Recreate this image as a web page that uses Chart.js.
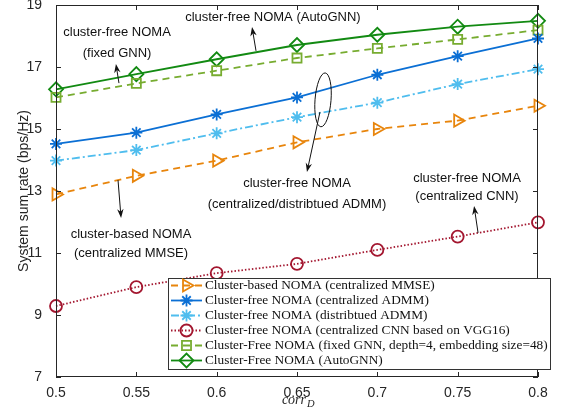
<!DOCTYPE html>
<html>
<head>
<meta charset="utf-8">
<script src="https://cdn.jsdelivr.net/npm/chart.js@4.4.1/dist/chart.umd.min.js"></script>
<style>
  html, body { margin: 0; padding: 0; background: #fff; }
  canvas { display: block; }
</style>
</head>
<body>
<canvas id="c" width="584" height="411"></canvas>
<script>
// values
const corr = [0.5, 0.55, 0.6, 0.65, 0.7, 0.75, 0.8];
const mmse    = [12.89, 13.49, 13.98, 14.57, 15.00, 15.27, 15.75];
const admmC   = [14.52, 14.88, 15.47, 16.02, 16.75, 17.35, 17.92];
const admmD   = [13.98, 14.32, 14.86, 15.38, 15.85, 16.45, 16.93];
const cnn     = [9.29, 9.90, 10.35, 10.65, 11.10, 11.53, 11.99];
const gnnFix  = [16.02, 16.47, 16.88, 17.29, 17.60, 17.89, 18.19];
const autoGnn = [16.28, 16.77, 17.25, 17.71, 18.04, 18.30, 18.49];
const yTicks = [7, 9, 11, 13, 15, 17, 19];

const names = [
  'Cluster-based NOMA (centralized MMSE)',
  'Cluster-free NOMA (centralized ADMM)',
  'Cluster-free NOMA (distribtued ADMM)',
  'Cluster-free NOMA (centralized CNN based on VGG16)',
  'Cluster-Free NOMA (fixed GNN, depth=4, embedding size=48)',
  'Cluster-Free NOMA (AutoGNN)'
];

const pts = arr => arr.map((v, i) => ({ x: corr[i], y: v }));

function ds(label, data, color, dash, style, r, rot) {
  return {
    label, data: pts(data),
    borderColor: color, backgroundColor: 'rgba(0,0,0,0)',
    borderWidth: 1.8, borderDash: dash,
    pointStyle: style, pointRadius: r, pointRotation: rot || 0,
    pointBorderColor: color, pointBackgroundColor: 'rgba(0,0,0,0)',
    pointBorderWidth: 1.8, tension: 0, clip: false
  };
}

const datasets = [
  ds(names[0], mmse, '#e8850c', [7, 5], 'triangle', 7, 90),
  ds(names[1], admmC, '#0b6fd4', [], 'star', 6),
  ds(names[2], admmD, '#4fbdee', [8, 3, 2, 3], 'star', 6),
  ds(names[3], cnn, '#a3162f', [1.5, 2], 'circle', 6),
  ds(names[4], gnnFix, '#77ac30', [7, 5], 'rect', 6.4),
  ds(names[5], autoGnn, '#128a12', [], 'rectRot', 7)
];

// annotations in data coordinates
const notes = [
  { x: 0.635, y: [18.61], t: ['cluster-free NOMA (AutoGNN)'] },
  { x: 0.538, y: [18.10, 17.45], t: ['cluster-free NOMA', '(fixed GNN)'] },
  { x: 0.650, y: [13.26, 12.58], t: ['cluster-free NOMA', '(centralized/distribtued ADMM)'] },
  { x: 0.7558, y: [13.42, 12.81], t: ['cluster-free NOMA', '(centralized CNN)'] },
  { x: 0.5467, y: [11.61, 11.00], t: ['cluster-based NOMA', '(centralized MMSE)'] }
];
const arrows = [
  [0.6245, 17.52, 0.622, 18.29],
  [0.5392, 16.48, 0.5373, 17.10],
  [0.6643, 15.55, 0.6562, 13.61],
  [0.7627, 11.65, 0.7602, 12.52],
  [0.5386, 13.35, 0.5405, 12.13]
];

const AX = '#262626';

function arrow(ctx, x1, y1, x2, y2) {
  const a = Math.atan2(y2 - y1, x2 - x1), L = 9, W = 3.2;
  ctx.beginPath();
  ctx.moveTo(x1, y1);
  ctx.lineTo(x2 - Math.cos(a) * L * 0.6, y2 - Math.sin(a) * L * 0.6);
  ctx.stroke();
  ctx.beginPath();
  ctx.moveTo(x2, y2);
  ctx.lineTo(x2 - Math.cos(a) * L - Math.sin(a) * W, y2 - Math.sin(a) * L + Math.cos(a) * W);
  ctx.lineTo(x2 - Math.cos(a) * L * 0.7, y2 - Math.sin(a) * L * 0.7);
  ctx.lineTo(x2 - Math.cos(a) * L + Math.sin(a) * W, y2 - Math.sin(a) * L - Math.cos(a) * W);
  ctx.closePath();
  ctx.fill();
}

const decor = {
  id: 'decor',
  afterDatasetsDraw(chart) {
    const { ctx, chartArea: a, scales: { x, y } } = chart;
    ctx.save();
    // frame and inward ticks
    ctx.strokeStyle = AX; ctx.lineWidth = 1;
    ctx.strokeRect(a.left + 0.5, a.top + 0.5, a.right - a.left - 1, a.bottom - a.top - 1);
    ctx.beginPath();
    corr.forEach(v => {
      const px = Math.round(x.getPixelForValue(v)) + 0.5;
      ctx.moveTo(px, a.bottom); ctx.lineTo(px, a.bottom - 5);
      ctx.moveTo(px, a.top); ctx.lineTo(px, a.top + 5);
    });
    yTicks.forEach(v => {
      const py = Math.round(y.getPixelForValue(v)) + 0.5;
      ctx.moveTo(a.left, py); ctx.lineTo(a.left + 5, py);
      ctx.moveTo(a.right, py); ctx.lineTo(a.right - 5, py);
    });
    ctx.stroke();

    // annotations
    ctx.fillStyle = '#111'; ctx.strokeStyle = '#111'; ctx.lineWidth = 1;
    ctx.font = '13px "Liberation Sans", Arial, sans-serif';
    ctx.textAlign = 'center'; ctx.textBaseline = 'middle';
    notes.forEach(n => n.t.forEach((s, i) => ctx.fillText(s, x.getPixelForValue(n.x), y.getPixelForValue(n.y[i]))));
    arrows.forEach(r => arrow(ctx, x.getPixelForValue(r[0]), y.getPixelForValue(r[1]), x.getPixelForValue(r[2]), y.getPixelForValue(r[3])));
    ctx.beginPath();
    ctx.ellipse(x.getPixelForValue(0.6662), y.getPixelForValue(15.94), 8, 27, 0.08, 0, Math.PI * 2);
    ctx.stroke();

    // legend
    const lx = 168, ly = 278, lw = 382, lh = 91;
    ctx.fillStyle = '#fff';
    ctx.fillRect(lx, ly, lw, lh);
    ctx.strokeStyle = '#333'; ctx.lineWidth = 1;
    ctx.strokeRect(lx + 0.5, ly + 0.5, lw, lh);
    ctx.font = '13.3px "Liberation Serif", "Times New Roman", serif';
    ctx.textAlign = 'left';
    datasets.forEach((d, i) => {
      const cy = ly + 7.5 + i * 15;
      ctx.strokeStyle = d.borderColor; ctx.lineWidth = d.borderWidth;
      ctx.setLineDash(d.borderDash);
      ctx.beginPath(); ctx.moveTo(lx + 3, cy); ctx.lineTo(lx + 34, cy); ctx.stroke();
      ctx.setLineDash([]);
      ctx.fillStyle = 'rgba(0,0,0,0)';
      Chart.helpers.drawPoint(ctx, { pointStyle: d.pointStyle, rotation: d.pointRotation, radius: d.pointRadius, borderWidth: d.pointBorderWidth }, lx + 18.5, cy);
      ctx.fillStyle = '#111';
      ctx.fillText(d.label, lx + 37, cy + 0.5);
    });

    // axis titles
    ctx.fillStyle = AX;
    ctx.font = '14px "Liberation Sans", Arial, sans-serif';
    ctx.textAlign = 'center';
    ctx.save();
    ctx.translate(24, (a.top + a.bottom) / 2);
    ctx.rotate(-Math.PI / 2);
    ctx.fillText('System sum rate (bps/Hz)', 0, 0);
    ctx.restore();
    const cx = (a.left + a.right) / 2;
    ctx.font = 'italic 14px "Liberation Serif", "Times New Roman", serif';
    ctx.textAlign = 'right';
    ctx.fillText('corr', cx + 9, 400);
    ctx.font = 'italic 10.5px "Liberation Serif", "Times New Roman", serif';
    ctx.textAlign = 'left';
    ctx.fillText('D', cx + 10, 404.5);
    ctx.restore();
  }
};

new Chart(document.getElementById('c'), {
  type: 'line',
  data: { datasets },
  options: {
    responsive: false,
    animation: false,
    layout: { autoPadding: false, padding: { top: 5, right: 46, left: 0, bottom: 0 } },
    plugins: { legend: { display: false }, tooltip: { enabled: false } },
    scales: {
      x: {
        type: 'linear', min: 0.5, max: 0.8,
        afterFit: s => { s.height = 34; s.paddingLeft = 0; s.paddingRight = 0; },
        afterBuildTicks: s => { s.ticks = corr.map(v => ({ value: v })); },
        grid: { display: false }, border: { display: false },
        ticks: {
          color: AX, padding: 0, maxRotation: 0, autoSkip: false,
          font: { family: '"Liberation Sans", Arial, sans-serif', size: 14 },
          callback: v => String(+v.toFixed(2))
        }
      },
      y: {
        min: 7, max: 19,
        afterFit: s => { s.width = 56; s.paddingTop = 0; s.paddingBottom = 0; },
        afterBuildTicks: s => { s.ticks = yTicks.map(v => ({ value: v })); },
        grid: { display: false }, border: { display: false },
        ticks: {
          color: AX, padding: 6,
          font: { family: '"Liberation Sans", Arial, sans-serif', size: 14 }
        }
      }
    }
  },
  plugins: [decor]
});
</script>
</body>
</html>
